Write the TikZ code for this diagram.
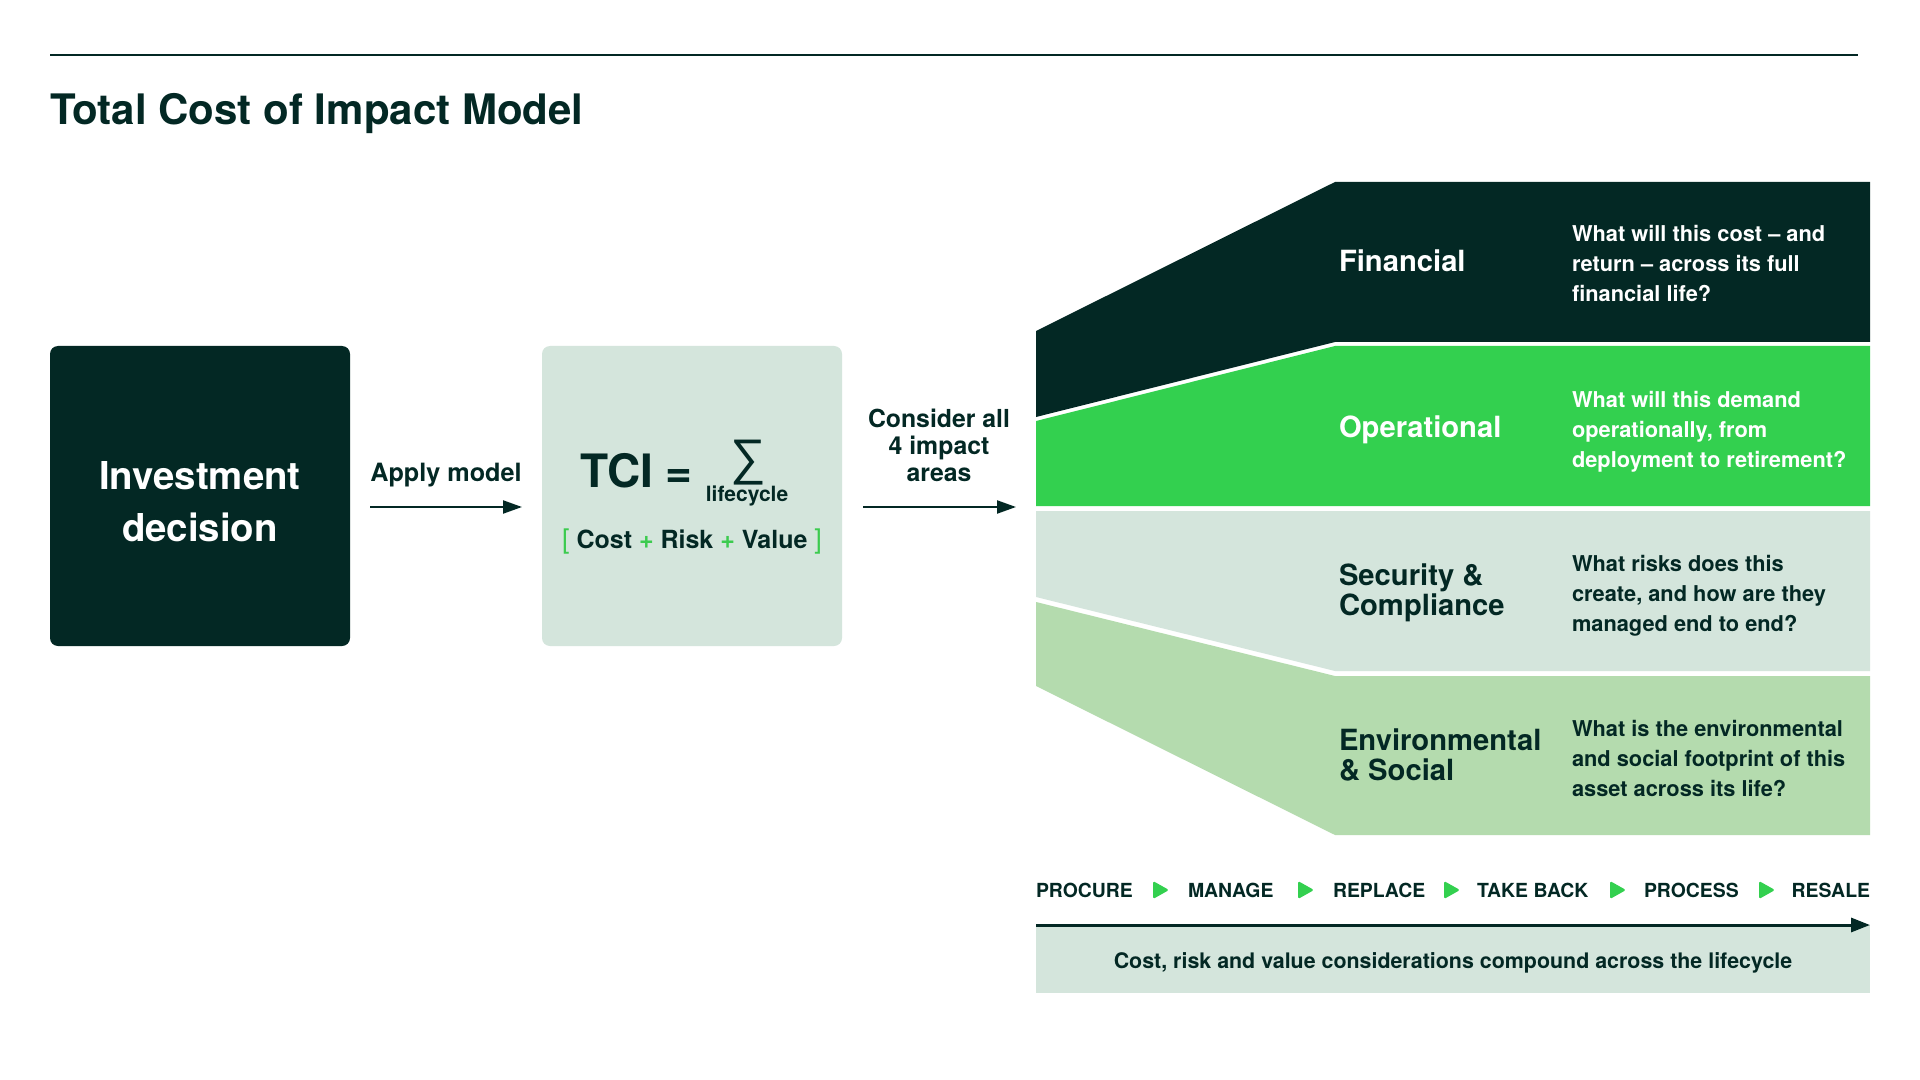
\documentclass[tikz,border=0pt]{standalone}
\usepackage{fontspec}
\setmainfont{TeX Gyre Heros}
\newfontfamily\sigmafont{Liberation Sans}
\usetikzlibrary{arrows.meta,calc}
\definecolor{dk}{HTML}{032824}
\definecolor{gr}{HTML}{33D04F}
\definecolor{grt}{HTML}{3CCB4F}
\definecolor{lt}{HTML}{D4E5DC}
\definecolor{lg}{HTML}{B4DBAE}
\begin{document}
\begin{tikzpicture}[x=0.5pt,y=-0.5pt,
  txt/.style={inner sep=0pt, outer sep=0pt, text=dk},
  box/.style={inner sep=0pt, outer sep=0pt, rounded corners=4pt, minimum width=150pt, minimum height=150pt, anchor=north west},
  cat/.style={txt, anchor=base west, align=left, font=\bfseries\fontsize{14.6}{15}\selectfont},
  qst/.style={txt, anchor=base west, align=left, font=\bfseries\fontsize{10.9}{15}\selectfont},
  stage/.style={txt, anchor=base west, font=\bfseries\fontsize{9.7}{12}\selectfont},
  arr/.style={dk, line width=1.1pt, -{Triangle[length=9.5pt,width=6.5pt]}},
  tri/.style={gr, rounded corners=0.8pt}]
\useasboundingbox (0,0) rectangle (1920,1080);
\fill[white] (0,0) rectangle (1920,1080);

% header
\draw[dk, line width=0.6pt] (50,55) -- (1858,55);
\node[txt, anchor=base west, font=\bfseries\fontsize{21}{26}\selectfont] (title) at (50,125) {Total Cost of Impact Model};

% left boxes
\node[box, fill=dk] (dec) at (50,346) {};
\node[txt, text=white, anchor=base, align=center, font=\bfseries\fontsize{19.2}{26}\selectfont] (dectext) at (200,541) {Investment\\decision};
\node[box, fill=lt] (tci) at (542,346) {};

\node[txt, anchor=base, font=\bfseries\fontsize{12.6}{15}\selectfont] (apply) at (446,481) {Apply model};
\draw[arr, shorten <=10pt, shorten >=10pt] ([yshift=-5.5pt]dec.east) -- ([yshift=-5.5pt]tci.west);

% formula
\node[txt, anchor=base west, font=\bfseries\fontsize{23}{26}\selectfont] (tcieq) at (580,487) {TCI =};
\node[txt, anchor=base, font=\sigmafont\fontsize{25}{26}\selectfont] (sigma) at (748,474) {∑};
\node[txt, anchor=base, font=\bfseries\fontsize{10.5}{10}\selectfont] (lc) at (747,501) {lifecycle};
\node[txt, anchor=base, font=\bfseries\fontsize{12.5}{15}\selectfont] (crv) at (692,548) {\textcolor{grt}{\mdseries\fontsize{13.5}{15}\selectfont[} Cost \textcolor{grt}{+} Risk \textcolor{grt}{+} Value \textcolor{grt}{\mdseries\fontsize{13.5}{15}\selectfont]}};

\node[txt, anchor=base, align=center, font=\bfseries\fontsize{12.4}{13.5}\selectfont] (consider) at (939,481) {Consider all\\4 impact\\areas};
\coordinate (fan) at (1036,507);
\draw[arr, shorten <=10.5pt, shorten >=10pt] ([yshift=-5.5pt]tci.east) -- (fan);

% impact fan
\fill[dk] (1036,331) -- (1335,182) -- (1870,182) -- (1870,342) -- (1335,342) -- (1036,417) -- cycle;
\fill[gr] (1036,421) -- (1335,346) -- (1870,346) -- (1870,506) -- (1036,506) -- cycle;
\fill[lt] (1036,511) -- (1870,511) -- (1870,671) -- (1335,671) -- (1036,597) -- cycle;
\fill[lg] (1036,602) -- (1335,676) -- (1870,676) -- (1870,835) -- (1335,835) -- (1036,686) -- cycle;

\node[cat, text=white] (fin) at (1339,272) {Financial};
\node[qst, text=white] (finq) at (1572,302) {What will this cost -- and\\return -- across its full\\financial life?};
\node[cat, text=white] (ops) at (1339,437) {Operational};
\node[qst, text=white] (opsq) at (1572,467) {What will this demand\\operationally, from\\deployment to retirement?};
\node[cat] (sec) at (1339,615) {Security \&\\Compliance};
\node[qst] (secq) at (1572,631) {What risks does this\\create, and how are they\\managed end to end?};
\node[cat] (env) at (1339,780) {Environmental\\\& Social};
\node[qst] (envq) at (1572,796) {What is the environmental\\and social footprint of this\\asset across its life?};

% lifecycle
\node[stage] (s1) at (1036,897) {PROCURE};
\node[stage] (s2) at (1188,897) {MANAGE};
\node[stage] (s3) at (1333,897) {REPLACE};
\node[stage] (s4) at (1477,897) {TAKE BACK};
\node[stage] (s5) at (1644,897) {PROCESS};
\node[stage, anchor=base east] (s6) at (1870,897) {RESALE};
\foreach \x in {1153,1298,1444,1610,1759}{
  \fill[tri] (\x,881) -- (\x+16,890) -- (\x,899) -- cycle;
}
\node[inner sep=0pt, outer sep=0pt, fill=lt, anchor=north west, minimum width=417pt, minimum height=34pt] (band) at (1036,925) {};
\draw[dk, line width=1.5pt, -{Triangle[length=9.5pt,width=7pt]}] (band.north west) -- (band.north east);
\node[txt, anchor=base, font=\bfseries\fontsize{10.7}{12}\selectfont] (cap) at (1453,968) {Cost, risk and value considerations compound across the lifecycle};
\end{tikzpicture}
\end{document}
